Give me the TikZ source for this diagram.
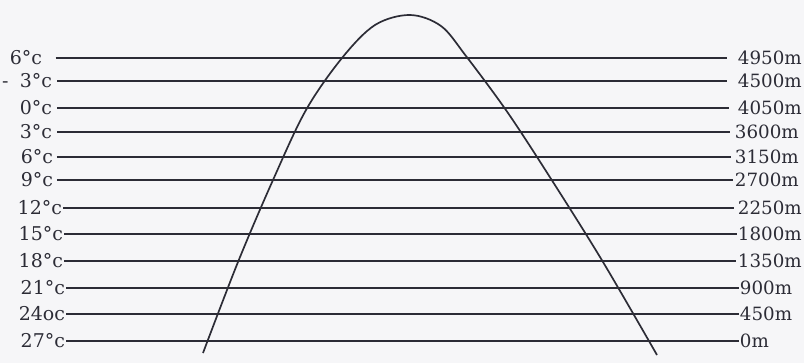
\documentclass[tikz,border=0pt]{standalone}
\usepackage{fontspec}
\setmainfont{DejaVu Serif}
\usetikzlibrary{positioning}
\definecolor{ink}{RGB}{44,44,54}
\definecolor{paper}{RGB}{246,246,248}
\tikzset{tlab/.style={anchor=east,inner sep=0.5pt,text=ink,font=\fontsize{13.5}{15}\selectfont}}
\tikzset{hlab/.style={anchor=west,inner sep=0.5pt,text=ink,font=\fontsize{13}{15}\selectfont}}
\tikzset{level/.style={draw=ink,line width=1.2pt}}

\begin{document}
\begin{tikzpicture}[x=0.025cm,y=-0.025cm]
	\fill[paper] (0,0) rectangle (804,363);
	\useasboundingbox (0,0) rectangle (804,363);
	% temperature / height lines
	\foreach \y/\t/\h/\xa/\xb/\ga/\gb [count=\i] in {
		58/6°c/4950m/43/737/9pt/7pt,
		81/{-\hspace{0.6em}3°c}/4500m/53/737/3pt/7pt,
		108/0°c/4050m/53/737/3pt/6pt,
		132/3°c/3600m/53/734/3pt/3pt,
		157/6°c/3150m/54/734/2pt/2pt,
		180/9°c/2700m/54/734/2pt/1pt,
		208/12°c/2250m/63/737/0pt/2pt,
		234/15°c/1800m/64/737/0pt/0pt,
		261/18°c/1350m/64/737/0pt/1pt,
		288/21°c/900m/66/739/0pt/0pt,
		314/24oc/450m/66/739/0pt/0pt,
		341/27°c/0m/66/739/0pt/0pt}
	{
		\node[tlab] (t\i) at (\xa,\y) {\t};
		\node[hlab] (h\i) at (\xb,\y) {\h};
		\draw[level,shorten <=\ga,shorten >=\gb] (t\i.east) -- (h\i.west);
	}
	% mountain profile
	\draw[level] plot[smooth,tension=0.55] coordinates {
		(203,353) (238,262) (273,180) (306,110) (342,58) (375,25)
		(410,15) (441,26) (466,56) (508,113) (553,182) (603,262) (657,355)};
\end{tikzpicture}
\end{document}
